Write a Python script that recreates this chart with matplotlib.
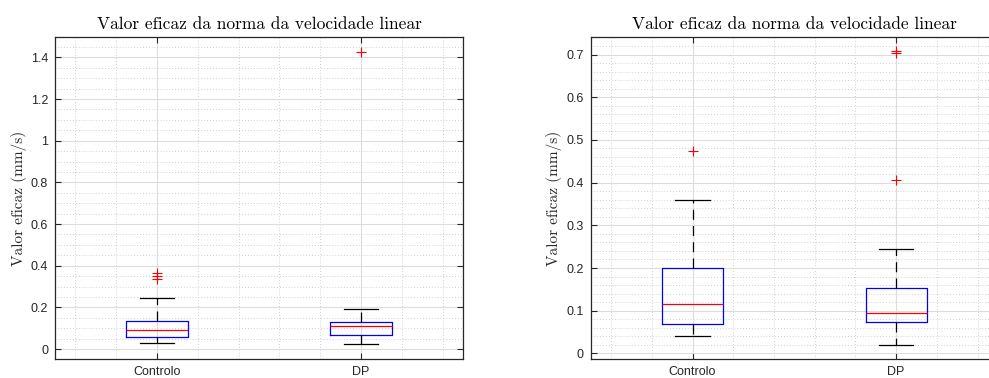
import matplotlib
matplotlib.use('Agg')
import matplotlib.pyplot as plt
from matplotlib.ticker import MultipleLocator, FuncFormatter

groups = ['Controlo', 'DP']
title = 'Valor eficaz da norma da velocidade linear'
ylabel = 'Valor eficaz (mm/s)'

# left panel: whislo, q1, med, q3, whishi, outliers
left_lo = [0.027, 0.022]
left_q1 = [0.059, 0.066]
left_med = [0.090, 0.110]
left_q3 = [0.136, 0.131]
left_hi = [0.246, 0.193]
left_out = [[0.338, 0.350, 0.363], [1.427]]

# right panel
right_lo = [0.040, 0.020]
right_q1 = [0.070, 0.074]
right_med = [0.1155, 0.094]
right_q3 = [0.200, 0.154]
right_hi = [0.359, 0.244]
right_out = [[0.473], [0.405, 0.704, 0.708]]

serif = 'cmr10'
sans = 'Liberation Sans'
dark = '#262626'


def make_stats(lo, q1, med, q3, hi, out):
    stats = []
    for i, g in enumerate(groups):
        stats.append(dict(label=g, whislo=lo[i], q1=q1[i], med=med[i],
                          q3=q3[i], whishi=hi[i], fliers=out[i]))
    return stats


def draw(ax, stats, ylim, major, minor):
    ax.bxp(stats, positions=[1, 2], widths=0.3, capwidths=0.17,
           showfliers=True, patch_artist=False,
           boxprops=dict(color='#0000ff', linewidth=0.9),
           medianprops=dict(color='#ff0000', linewidth=0.9),
           whiskerprops=dict(color='black', linewidth=0.9, linestyle=(0, (8, 5))),
           capprops=dict(color='black', linewidth=0.9),
           flierprops=dict(marker='+', markeredgecolor='#ff0000',
                           markersize=7, markeredgewidth=0.8, linestyle='none'))
    ax.set_xlim(0.5, 2.5)
    ax.set_ylim(*ylim)
    ax.yaxis.set_major_locator(MultipleLocator(major))
    ax.yaxis.set_minor_locator(MultipleLocator(minor))
    ax.xaxis.set_minor_locator(MultipleLocator(0.2))
    ax.yaxis.set_major_formatter(FuncFormatter(lambda v, p: ('%g' % round(v, 3))))
    ax.set_xticks([1, 2])
    ax.set_xticklabels(groups)
    ax.grid(True, which='major', color='#dcdcdc', linewidth=0.8)
    ax.grid(True, which='minor', color='#c0c0c0', linewidth=0.6, linestyle=(0, (1, 2.5)))
    ax.set_axisbelow(True)
    ax.tick_params(which='major', direction='in', length=4, width=0.8,
                   top=True, right=True, colors=dark, labelsize=9, pad=5)
    ax.tick_params(which='minor', length=0, top=True, right=True)
    for lab in ax.get_xticklabels() + ax.get_yticklabels():
        lab.set_fontfamily(sans)
    for s in ax.spines.values():
        s.set_color(dark)
        s.set_linewidth(0.9)
    ax.set_title(title, fontfamily=serif, fontsize=12.5, pad=6)
    ax.set_ylabel(ylabel, fontfamily=serif, fontsize=11, color=dark, labelpad=3)


fig = plt.figure(figsize=(9.89, 3.78), dpi=100)
ax1 = fig.add_axes([55 / 989, 1 - 359 / 378, 408 / 989, 322 / 378])
ax2 = fig.add_axes([590.7 / 989, 1 - 359 / 378, 407.3 / 989, 322 / 378])

draw(ax1, make_stats(left_lo, left_q1, left_med, left_q3, left_hi, left_out),
     (-0.048, 1.498), 0.2, 0.05)
draw(ax2, make_stats(right_lo, right_q1, right_med, right_q3, right_hi, right_out),
     (-0.013, 0.741), 0.1, 0.02)

fig.savefig('out.png', dpi=100)
